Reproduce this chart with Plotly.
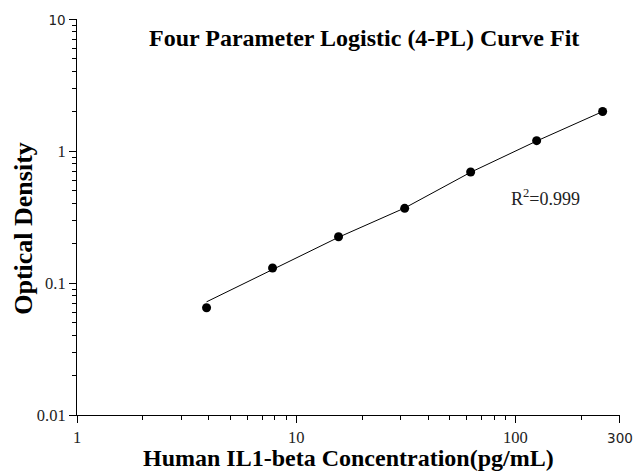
import plotly.graph_objects as go

# Standard points (concentration pg/mL, optical density)
conc = [3.9, 7.8, 15.6, 31.25, 62.5, 125, 250]
od = [0.065, 0.130, 0.224, 0.368, 0.693, 1.197, 1.99]

# Fitted 4-PL curve
curve_x = [3.9, 7.8, 15.6, 31.25, 62.5, 125, 250]
curve_y = [0.072, 0.127, 0.222, 0.370, 0.690, 1.190, 1.99]

x_tickvals = [1, 10, 100, 300]
x_ticktext = ["1", "10", "100", '<span style="font-family:DejaVu Sans;font-size:13.5px">300</span>']
x_minor = [2, 3, 4, 5, 6, 7, 8, 9, 20, 30, 40, 50, 60, 70, 80, 90, 200]
y_tickvals = [0.01, 0.1, 1, 10]
y_ticktext = ["0.01", "0.1", "1", '<span style="font-family:DejaVu Sans;font-size:13.5px">10</span>']
y_minor = [m * d for d in (0.01, 0.1, 1) for m in range(2, 10)]

serif = "Liberation Serif, Times New Roman, serif"

fig = go.Figure()
fig.add_trace(go.Scatter(x=curve_x, y=curve_y, mode="lines",
                         line=dict(color="black", width=1), showlegend=False))
fig.add_trace(go.Scatter(x=conc, y=od, mode="markers",
                         marker=dict(color="black", size=9), showlegend=False))

fig.update_layout(
    width=634, height=475,
    margin=dict(l=77, r=14, t=19, b=60),
    paper_bgcolor="white", plot_bgcolor="white",
    font=dict(family=serif, color="black", size=16),
    xaxis=dict(type="log", range=[0, 2.47715], showgrid=False, zeroline=False,
               automargin=False, ticklabeloverflow="allow",
               showline=True, linecolor="black", linewidth=1,
               tickmode="array", tickvals=x_tickvals, ticktext=x_ticktext,
               ticks="outside", ticklen=7, tickwidth=1, tickcolor="black",
               tickfont=dict(family=serif, size=16.5, color="#222"),
               minor=dict(tickmode="array", tickvals=x_minor, ticks="outside",
                          ticklen=4, tickwidth=1, tickcolor="black", showgrid=False)),
    yaxis=dict(type="log", range=[-2, 1], showgrid=False, zeroline=False,
               automargin=False, ticklabeloverflow="allow",
               showline=True, linecolor="black", linewidth=1,
               tickmode="array", tickvals=y_tickvals, ticktext=y_ticktext,
               ticks="outside", ticklen=7, tickwidth=1, tickcolor="black",
               tickfont=dict(family=serif, size=16.5, color="#222"),
               minor=dict(tickmode="array", tickvals=y_minor, ticks="outside",
                          ticklen=4, tickwidth=1, tickcolor="black", showgrid=False)),
    annotations=[
        dict(text="<b>Four Parameter Logistic (4-PL) Curve Fit</b>", xref="paper", yref="paper",
             x=0.529, y=0.952, showarrow=False, xanchor="center", yanchor="middle",
             font=dict(family=serif, size=24, color="black")),
        dict(text="<b>Human IL1-beta Concentration(pg/mL)</b>", xref="paper", yref="paper",
             x=0.5, y=-0.109, showarrow=False, xanchor="center", yanchor="middle",
             font=dict(family=serif, size=24, color="black")),
        dict(text="<b>Optical Density</b>", xref="paper", yref="paper",
             x=-0.1, y=0.472, showarrow=False, textangle=-90,
             xanchor="center", yanchor="middle",
             font=dict(family=serif, size=26, color="black")),
        dict(text="R<sup>2</sup>=0.999", xref="paper", yref="paper",
             x=0.862, y=0.548, showarrow=False, xanchor="center", yanchor="middle",
             font=dict(family=serif, size=18, color="#222")),
    ],
)

fig.write_html(
    "out.html",
    config={"displayModeBar": False},
    post_script="document.body.style.margin='0';document.body.style.overflow='hidden';",
)
